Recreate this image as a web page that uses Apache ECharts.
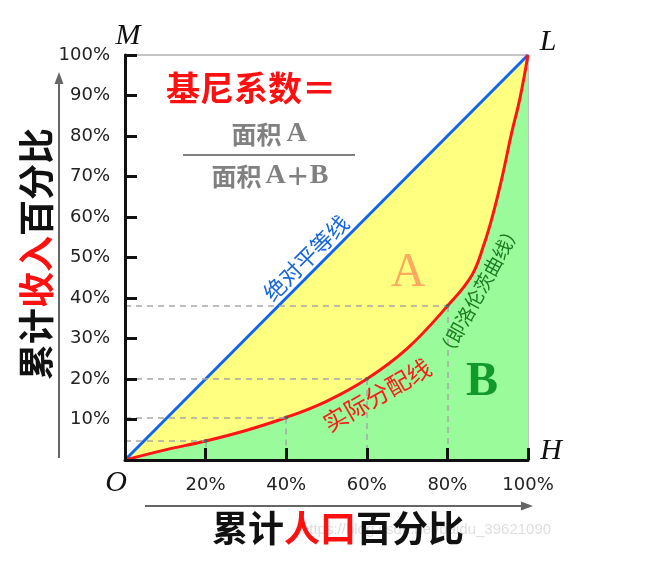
<!DOCTYPE html>
<html>
<head>
<meta charset="utf-8">
<script src="https://cdn.jsdelivr.net/npm/echarts@6/dist/echarts.min.js"></script>
<style>html,body{margin:0;padding:0;background:#fff;}#c{width:662px;height:568px;}</style>
</head>
<body>
<div id="c"></div>
<script>
// ---- data ----
const equalityX = [0, 100];
const equalityY = [0, 100];
const lorenzX = [0, 10, 20, 30, 40, 50, 60, 70, 80, 86, 89, 91.4, 93.5, 96, 98, 100];
const lorenzY = [0, 2.5, 4.7, 7.3, 10.5, 14.5, 20, 27.5, 38, 45.5, 53, 61, 69.5, 81, 89.3, 100];
const guideX = [20, 40, 60, 80];
const guideY = [4.7, 10.5, 20, 38];
const xTickValues = [0, 20, 40, 60, 80, 100];
const yTickValues = [0, 10, 20, 30, 40, 50, 60, 70, 80, 90, 100];

const chart = echarts.init(document.getElementById('c'), null, {renderer: 'canvas'});
const pct = v => (v === 0 ? '' : v + '%');

const guideLines = [];
guideX.forEach((x, i) => {
  const y = guideY[i];
  guideLines.push([{coord: [0, y]}, {coord: [x, y]}]);
  guideLines.push([{coord: [x, y]}, {coord: [x, 0]}]);
});

const cjk = '"Noto Sans CJK SC", sans-serif';
const serif = '"Liberation Serif", "DejaVu Serif", serif';

const option = {
  animation: false,
  backgroundColor: '#fff',
  grid: {left: 125, right: 134, top: 55, bottom: 108, show: true, borderColor: '#c4c4c4', borderWidth: 2},
  xAxis: {
    type: 'value', min: xTickValues[0], max: xTickValues[xTickValues.length - 1], interval: 20, z: 10,
    axisLine: {lineStyle: {color: '#111', width: 3}},
    axisTick: {inside: true, length: 12, lineStyle: {color: '#111', width: 3}},
    axisLabel: {formatter: pct, fontFamily: 'DejaVu Sans', fontSize: 18, color: '#222', margin: 16},
    splitLine: {show: false}
  },
  yAxis: {
    type: 'value', min: yTickValues[0], max: yTickValues[yTickValues.length - 1], interval: 10, z: 10,
    axisLine: {lineStyle: {color: '#111', width: 3}},
    axisTick: {inside: true, length: 12, lineStyle: {color: '#111', width: 3}},
    axisLabel: {formatter: pct, fontFamily: 'DejaVu Sans', fontSize: 18, color: '#222', margin: 15},
    splitLine: {show: false}
  },
  series: [
    {
      name: 'equality', type: 'line', z: 3,
      data: equalityX.map((x, i) => [x, equalityY[i]]),
      showSymbol: false,
      lineStyle: {color: '#0F66E8', width: 3},
      areaStyle: {color: '#FFFF80', opacity: 1}
    },
    {
      name: 'lorenz', type: 'line', z: 4,
      data: lorenzX.map((x, i) => [x, lorenzY[i]]),
      showSymbol: false, smooth: 0.4,
      lineStyle: {color: '#FF1515', width: 3},
      areaStyle: {color: '#99FB99', opacity: 1},
      markLine: {
        silent: true, symbol: ['none', 'none'], label: {show: false},
        lineStyle: {color: '#a8a8a8', type: [6, 5], width: 1.5},
        data: guideLines
      }
    },
    {
      name: 'points', type: 'scatter', z: 6,
      data: guideX.map((x, i) => [x, guideY[i]]),
      symbolSize: 4, itemStyle: {color: '#555'}
    }
  ],
  graphic: [
    {type: 'text', x: 426, y: 530, z: 1, style: {text: 'https://blog.csdn.net/baidu_39621090', font: '15px "Liberation Sans", sans-serif', fill: '#dedede', textAlign: 'center', textVerticalAlign: 'middle'}},
    {type: 'text', x: 166, y: 88, z: 20, style: {text: '基尼系数＝', font: 'bold 34px ' + cjk, fill: '#FF1010', textAlign: 'left', textVerticalAlign: 'middle'}},
    {type: 'text', x: 269, y: 134, z: 20, style: {
      text: '{c|面积}{s| }{a|A}', textAlign: 'center', textVerticalAlign: 'middle',
      rich: {c: {font: 'bold 25px ' + cjk, fill: '#808080', color: '#808080'}, s: {font: '18px sans-serif'}, a: {font: 'bold 28px ' + serif, fill: '#808080', color: '#808080'}}
    }},
    {type: 'line', z: 20, shape: {x1: 183, y1: 155, x2: 355, y2: 155}, style: {stroke: '#808080', lineWidth: 2}},
    {type: 'text', x: 270, y: 176, z: 20, style: {
      text: '{c|面积}{s| }{a|A}{p|＋}{a|B}', textAlign: 'center', textVerticalAlign: 'middle',
      rich: {c: {font: 'bold 25px ' + cjk, fill: '#808080', color: '#808080'}, s: {font: '14px sans-serif'}, a: {font: 'bold 28px ' + serif, fill: '#808080', color: '#808080'}, p: {font: 'bold 24px ' + cjk, fill: '#808080', color: '#808080'}}
    }},
    {type: 'text', x: 408, y: 273, z: 20, style: {text: 'A', font: '48px ' + serif, fill: '#FFA860', textAlign: 'center', textVerticalAlign: 'middle'}},
    {type: 'text', x: 482, y: 383, z: 20, style: {text: 'B', font: 'bold 48px ' + serif, fill: '#119A2A', textAlign: 'center', textVerticalAlign: 'middle'}},
    {type: 'text', x: 306, y: 258, rotation: Math.PI / 4, z: 20, style: {text: '绝对平等线', font: '22px ' + cjk, fill: '#1565E0', textAlign: 'center', textVerticalAlign: 'middle'}},
    {type: 'text', x: 377, y: 395, rotation: Math.PI / 6, z: 20, style: {text: '实际分配线', font: '24px ' + cjk, fill: '#FF1A1A', textAlign: 'center', textVerticalAlign: 'middle'}},
    {type: 'text', x: 479, y: 291, rotation: 61 * Math.PI / 180, z: 20, style: {text: '（即洛伦茨曲线）', font: '19px ' + cjk, fill: '#1C7A22', textAlign: 'center', textVerticalAlign: 'middle'}},
    {type: 'text', x: 128, y: 36, z: 20, style: {text: 'M', font: 'italic 30px ' + serif, fill: '#111', textAlign: 'center', textVerticalAlign: 'middle'}},
    {type: 'text', x: 548, y: 42, z: 20, style: {text: 'L', font: 'italic 30px ' + serif, fill: '#111', textAlign: 'center', textVerticalAlign: 'middle'}},
    {type: 'text', x: 551, y: 451, z: 20, style: {text: 'H', font: 'italic 30px ' + serif, fill: '#111', textAlign: 'center', textVerticalAlign: 'middle'}},
    {type: 'text', x: 116, y: 483, z: 20, style: {text: 'O', font: 'italic 30px ' + serif, fill: '#111', textAlign: 'center', textVerticalAlign: 'middle'}},
    {type: 'line', z: 20, shape: {x1: 59, y1: 458, x2: 59, y2: 80}, style: {stroke: '#666', lineWidth: 2}},
    {type: 'polygon', z: 20, shape: {points: [[59, 72], [54.5, 84], [63.5, 84]]}, style: {fill: '#666'}},
    {type: 'line', z: 20, shape: {x1: 145, y1: 506, x2: 524, y2: 506}, style: {stroke: '#666', lineWidth: 2}},
    {type: 'polygon', z: 20, shape: {points: [[533, 506], [521, 501.5], [521, 510.5]]}, style: {fill: '#666'}},
    {type: 'text', x: 36, y: 254, rotation: Math.PI / 2, z: 20, style: {
      text: '{k|累计}{r|收入}{k|百分比}', textAlign: 'center', textVerticalAlign: 'middle',
      rich: {k: {font: 'bold 36px ' + cjk, fill: '#111', color: '#111'}, r: {font: 'bold 36px ' + cjk, fill: '#FF1010', color: '#FF1010'}}
    }},
    {type: 'text', x: 338, y: 528, z: 20, style: {
      text: '{k|累计}{r|人口}{k|百分比}', textAlign: 'center', textVerticalAlign: 'middle',
      rich: {k: {font: 'bold 36px ' + cjk, fill: '#111', color: '#111'}, r: {font: 'bold 36px ' + cjk, fill: '#FF1010', color: '#FF1010'}}
    }}
  ]
};
chart.setOption(option);
</script>
</body>
</html>
